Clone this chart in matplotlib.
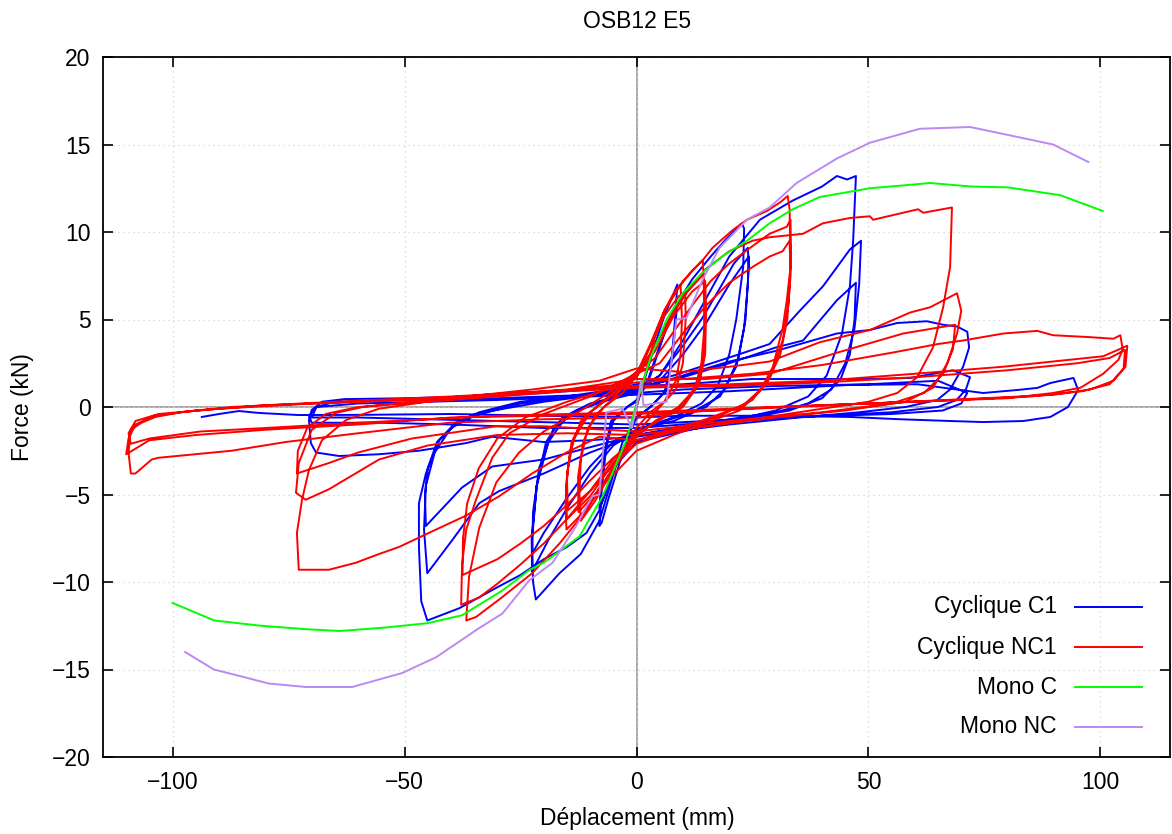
import numpy as np
import matplotlib
matplotlib.use("Agg")
import matplotlib.pyplot as plt

plt.rcParams['font.family'] = ['Liberation Sans', 'DejaVu Sans']
plt.rcParams['font.size'] = 16.5

# ============
# Data (displacement mm, force kN)
# ============
cyclic_c1 = [
    (0, 0), (2, 1.8), (4, 3.6), (6, 5.2), (8.5, 6.8), (8.8, 7.0), (8.3, 5.0), (7.5, 2.5), (6, 0.8), (3, 0),
    (0, -0.6), (-2, -1.8), (-4, -3.5), (-6, -5.2), (-7.5, -6.6), (-8, -6.8), (-7.5, -4.8), (-6.5, -2.2),
    (-5, -0.8), (-2, 0), (0, 0.4),
    (2, 1.2), (5, 3.5), (8, 5.6), (8.8, 6.0), (8, 3.5), (6.5, 1), (3, 0), (0, -0.6), (-3, -2), (-6, -4.5),
    (-8, -5.8), (-7.3, -3.2), (-5.5, -0.8), (-2, 0), (0, 0.3),
    (3, 1.8), (6, 4.2), (9, 6.0), (12, 7.3), (16, 8.6), (19, 9.5), (22.7, 10.5), (23.2, 10.2), (23, 8),
    (21.5, 5), (20, 3), (17.5, 1.2), (14, 0.2), (8, -0.6), (0, -1.3), (-4, -3), (-8, -6.5), (-12, -8.4),
    (-16.6, -9.5), (-21.7, -11.0), (-22.3, -10), (-22.5, -7.5), (-21.5, -4.5), (-19.5, -2), (-16, -0.6),
    (-10, 0.2), (-4, 0.6), (0, 1.0),
    (5, 1.8), (10, 3.5), (14, 5.0), (18, 6.8), (21, 8.2), (24, 9.1), (24.2, 8), (23.5, 5), (22, 2.8),
    (19, 1), (15, 0), (8, -0.8), (0, -1.3), (-5, -2.2), (-10, -3.8), (-15, -5.8), (-19, -7.6),
    (-22.5, -9.4), (-22.6, -7.5), (-21.5, -4.5), (-19, -2), (-15, -0.5), (-8, 0.3), (0, 0.9),
    (5, 1.5), (10, 3.0), (15, 4.8), (20, 7), (24.2, 8.6), (24, 7), (23.2, 4.5), (21.5, 2.3), (18, 0.6),
    (12, -0.3), (5, -0.9), (0, -1.3), (-5, -2), (-10, -3.4), (-15, -5.2), (-20, -7.2), (-22.5, -8.4),
    (-22.3, -6), (-21, -3.5), (-18, -1.3), (-13, -0.2), (-6, 0.4), (0, 0.8),
    (5, 1.8), (10, 3.8), (15, 6.2), (20, 8.6), (26.6, 10.7), (33.7, 11.8), (40, 12.6), (43.2, 13.2),
    (45.4, 13.0), (47.3, 13.2), (46.7, 9.5), (46, 6.9), (44.3, 4.2), (41, 1.8), (37, 0.6), (30, -0.2),
    (20, -0.8), (10, -1.4), (0, -2.0), (-5, -3.5), (-8, -5.9), (-10.8, -7.2), (-15, -8), (-20, -8.7),
    (-25, -9.6), (-30, -10.3), (-38.2, -11.5), (-45.1, -12.2), (-46.4, -11.1), (-46.9, -8), (-46.9, -5.5),
    (-45.4, -3.8), (-42.5, -1.9), (-38.2, -0.8), (-33.9, -0.3), (-25, 0.3), (-15, 0.6), (-5, 1.0), (0, 1.3),
    (8, 1.8), (15, 2.4), (22, 3.0), (28.7, 3.6), (35.2, 5.5), (40.2, 6.9), (46, 9.0), (48.4, 9.5), (48, 7),
    (47, 4.5), (45, 2.5), (42, 1), (37, 0.2), (30, -0.3), (15, -0.9), (0, -1.6), (-10, -2.6), (-20, -3.8),
    (-29.6, -4.8), (-33.9, -5.5), (-39.7, -7.6), (-45.1, -9.5), (-45.8, -7), (-45.4, -4.5), (-43.5, -2.6),
    (-40, -1.2), (-35, -0.5), (-25, 0.2), (-10, 0.7), (0, 1.1),
    (10, 1.7), (20, 2.5), (30, 3.4), (35.9, 3.8), (43.2, 6.1), (47.3, 7.1), (47, 5), (46, 3), (44, 1.6),
    (40, 0.5), (33, -0.2), (20, -0.8), (5, -1.4), (0, -1.6), (-10, -2.3), (-20, -3), (-31.1, -3.4),
    (-37.6, -4.6), (-45.4, -6.8), (-45.6, -5), (-45, -3.5), (-43, -2), (-39, -0.9), (-33, -0.3),
    (-20, 0.3), (-5, 0.8), (0, 1.0),
    (10, 1.8), (20, 2.6), (30, 3.2), (43.2, 4.2), (50.3, 4.4), (56.2, 4.8), (62.6, 4.9), (66.1, 4.7),
    (69.1, 4.6), (71.3, 4.3), (71.7, 3.4), (70.4, 2.3), (67.6, 1.0), (64.8, 0.4), (58, 0), (48, -0.3),
    (35, -0.6), (20, -1), (5, -1.5), (0, -1.7), (-10, -1.9), (-20, -2.0), (-31.1, -1.7), (-36.7, -2.06),
    (-46.9, -2.5), (-55.5, -2.7), (-64.1, -2.8), (-69.1, -2.6), (-70.2, -2.06), (-70.6, -0.74),
    (-70, -0.17), (-67.8, 0.3), (-63, 0.45), (-50, 0.5), (-35, 0.6), (-20, 0.8), (-5, 1.1), (0, 1.2),
    (10, 1.3), (25, 1.6), (40, 1.6), (50, 1.6), (59, 1.66), (68.2, 2.1), (71.9, 1.7), (71, 1.0), (69, 0.4),
    (65, 0), (55, -0.3), (40, -0.5), (20, -0.8), (0, -1.2), (-20, -1.2), (-40, -1.0), (-55, -0.9),
    (-65, -0.9), (-70, -0.9), (-70.6, -0.5), (-69, 0), (-65, 0.3), (-50, 0.4), (-30, 0.5), (-10, 0.7),
    (0, 0.8),
    (10, 1.0), (30, 1.2), (50, 1.3), (65, 1.5), (71.3, 0.8), (70, 0.2), (66, -0.2), (55, -0.4), (30, -0.6),
    (0, -1.0), (-30, -0.8), (-60, -0.6), (-70, -0.6), (-69, 0), (-60, 0.2), (-30, 0.4), (0, 0.7),
    (20, 0.9), (46, 1.26), (60.5, 1.3), (74.7, 0.8), (82, 0.97), (86.4, 1.09), (89.2, 1.37), (94.2, 1.66),
    (95.2, 0.97), (93, 0), (89.2, -0.57), (83.4, -0.8), (74.7, -0.86), (67.6, -0.8), (56.8, -0.7),
    (46, -0.57), (30, -0.5), (10, -0.5), (0, -0.6), (-20, -0.5), (-40, -0.4), (-60, -0.45), (-72.8, -0.46),
    (-81.4, -0.34), (-85.7, -0.23), (-90, -0.4), (-93.7, -0.57),
]

cyclic_nc1 = [
    (0, 0), (2, 2), (4, 4), (6, 5.5), (8, 6.5), (9.5, 7.0), (9.8, 5), (9.5, 3), (8.5, 1.5), (6, 0.3),
    (3, -0.3), (0, -1.2), (-3, -2.6), (-6, -4), (-9, -5.4), (-12, -6.5), (-12.3, -5), (-12, -3),
    (-10.5, -1.2), (-7, 0), (-3, 0.8), (0, 1.8),
    (3, 3.5), (6, 5.2), (9, 6.3), (10.5, 6.6), (10.6, 5), (10, 2.5), (8.5, 1), (5, 0), (0, -1.5), (-4, -3),
    (-8, -4.7), (-12.5, -6.0), (-12.6, -4), (-11.5, -2), (-9, -0.5), (-5, 0.5), (0, 1.9),
    (3, 3.6), (6, 5.5), (9, 6.8), (12, 7.8), (14.3, 8.4), (14.5, 7), (14.6, 4.5), (14, 2.5), (12.5, 1.0),
    (9, 0), (4, -0.8), (0, -1.7), (-4, -3.2), (-8, -4.8), (-11, -5.9), (-15.1, -7.0), (-15.3, -5.5),
    (-14.8, -3.5), (-13.5, -1.8), (-10, -0.3), (-5, 0.8), (0, 2),
    (3, 3), (7, 5), (11, 6.6), (14.5, 7.6), (14.8, 6), (14.7, 3.5), (13.5, 1.5), (10, 0.1), (5, -0.7),
    (0, -1.6), (-5, -3.2), (-10, -5.1), (-15, -6.4), (-15.2, -4.5), (-14.3, -2.5), (-12, -0.8), (-7, 0.4),
    (0, 1.8),
    (4, 3.2), (8, 5.2), (12, 6.6), (14.8, 7.2), (15, 5.5), (14.8, 3), (13.5, 1.3), (10, 0), (4, -0.9),
    (0, -1.5), (-5, -3), (-10, -4.8), (-14.8, -5.9), (-15, -4), (-14, -2), (-11, -0.5), (-6, 0.5), (0, 1.7),
    (3, 3.5), (6, 5.5), (10, 7.2), (14.3, 8.4), (16.4, 9.1), (20.7, 10.1), (23.8, 10.7), (28.1, 11.2),
    (31, 11.7), (32.6, 12.06), (33, 11.3), (33.2, 8.0), (32.4, 6.1), (31.5, 4.5), (29.4, 2.3), (26.6, 0.9),
    (22.2, -0.2), (15, -0.9), (8, -1.6), (0, -2.5), (-4, -3.6), (-8, -4.6), (-10.8, -5.9), (-16.6, -7.8),
    (-22.5, -9.5), (-29.6, -11.0), (-34.6, -12.0), (-36.7, -12.2), (-36.1, -9.7), (-33.9, -6.9),
    (-30.2, -4.3), (-25.3, -2.6), (-20, -1.4), (-12, -0.2), (-6, 0.8), (0, 2.0),
    (4, 2.8), (8, 4.3), (12, 5.8), (16, 7.2), (20, 8.2), (24, 9.0), (28.7, 9.9), (32.4, 10.3), (33.2, 10.7),
    (33.3, 8.5), (32.8, 6), (31.5, 3.8), (29, 1.8), (25, 0.4), (18, -0.5), (10, -1.2), (0, -2.1),
    (-5, -3.3), (-10, -4.8), (-15, -6.4), (-20, -7.8), (-25, -9.0), (-30, -10.1), (-34, -10.9),
    (-37.8, -11.3), (-37.6, -9), (-36.7, -7), (-34.6, -5.3), (-31.1, -2.9), (-27.4, -1.5), (-20, -0.4),
    (-10, 0.6), (0, 1.9),
    (5, 2.5), (10, 4.2), (15, 5.8), (20, 7.1), (25, 8), (28.7, 8.6), (31.5, 8.9), (33, 9.5), (33.2, 7.5),
    (32.5, 5), (31, 3), (28, 1.3), (23, 0.1), (15, -0.7), (5, -1.5), (0, -1.9), (-5, -2.9), (-10, -4.2),
    (-15, -5.6), (-20, -6.8), (-25, -7.8), (-30, -8.7), (-35, -9.3), (-37.5, -9.6), (-37.4, -7.5),
    (-36.5, -5.5), (-34, -3.5), (-30, -1.8), (-24, -0.6), (-15, 0.3), (-5, 1.1), (0, 1.7),
    (5, 4), (10, 6.3), (15, 7.9), (20, 8.9), (25, 9.5), (28.7, 9.7), (35.9, 9.9), (40.2, 10.5), (46, 10.8),
    (50.3, 10.9), (51, 10.7), (57.5, 11.1), (60.7, 11.3), (61.8, 11.1), (68, 11.4), (67.6, 8.0),
    (66.1, 5.7), (63.9, 3.4), (60.5, 1.7), (56.2, 0.8), (50, 0.3), (40, -0.1), (25, -0.7), (10, -1.3),
    (0, -1.9), (-8, -1.7), (-15.1, -2.6), (-22.5, -3.8), (-29.6, -5.1), (-36.7, -6.2), (-44, -7.1),
    (-51.2, -8.0), (-55.5, -8.4), (-60.5, -8.9), (-66.3, -9.3), (-72.8, -9.3), (-73.2, -7.2), (-72.1, -5.3),
    (-70.6, -3.6), (-67.8, -1.9), (-62.6, -0.74), (-55.5, -0.1), (-40, 0.5), (-22.5, 1.0), (-8, 1.5),
    (0, 2.2),
    (10, 2.0), (20, 2.3), (28.7, 2.6), (39.5, 3.7), (50.3, 4.4), (59, 5.4), (63.3, 5.7), (69.1, 6.5),
    (70, 5.5), (69.1, 4.2), (67, 2.5), (63.9, 1.1), (58, 0.3), (45, -0.2), (30, -0.6), (15, -1.1),
    (0, -1.6), (-15, -1.5), (-30, -1.6), (-45, -2.2), (-55.5, -3.0), (-66.3, -4.7), (-71.3, -5.3),
    (-73.4, -4.9), (-72.8, -3.2), (-70, -1.3), (-64.8, -0.34), (-59, 0), (-45, 0.4), (-30, 0.7),
    (-15, 1.0), (0, 1.6),
    (15, 1.6), (28.7, 1.9), (43.2, 3.1), (57.5, 4.2), (68.7, 4.7), (68.2, 3.3), (66.1, 1.9), (62, 0.8),
    (55, 0.2), (40, -0.3), (20, -0.8), (0, -1.4), (-20, -1.1), (-30.2, -1.1), (-48.4, -1.8), (-60, -2.6),
    (-66.3, -3.2), (-73.2, -3.8), (-73, -2.5), (-71, -1.2), (-67, -0.4), (-60, 0), (-40, 0.4), (-20, 0.8),
    (0, 1.4),
    (10, 1.6), (25, 1.9), (40, 2.4), (55, 3.1), (65, 3.6), (70.4, 3.8), (79.1, 4.2), (86.4, 4.35),
    (89.8, 4.1), (97.2, 4.0), (102.8, 3.9), (104.3, 4.1), (104.8, 3.3), (103.9, 2.7), (100.6, 1.9),
    (95.7, 1.1), (89.8, 0.8), (80, 0.5), (70, 0.4), (50, 0.2), (30, 0), (10, -0.3), (0, -0.6), (-20, -0.7),
    (-40.4, -0.9), (-60, -1.5), (-75.6, -2.0), (-87.3, -2.5), (-103, -2.9), (-104.5, -3.0), (-108, -3.8),
    (-109, -3.8), (-109.5, -2.6), (-109, -1.3), (-106.7, -0.9), (-103.7, -0.57), (-98, -0.29), (-87.3, 0),
    (-65.6, 0.29), (-40, 0.6), (-20, 0.9), (0, 1.2),
    (20, 1.3), (40, 1.5), (60, 1.9), (79, 2.3), (93.5, 2.7), (100.6, 2.9), (105.8, 3.5), (105.4, 2.3),
    (102.8, 1.5), (97.8, 1.0), (90, 0.7), (75, 0.5), (50, 0.2), (25, -0.1), (0, -0.4), (-20, -0.5),
    (-40, -0.6), (-60, -1.0), (-80, -1.3), (-95, -1.6), (-105, -1.9), (-110, -2.7), (-109.5, -1.8),
    (-108, -1.0), (-104, -0.5), (-95, -0.2), (-80, 0.1), (-60, 0.3), (-30, 0.7), (0, 1.1),
    (20, 1.2), (40, 1.4), (60, 1.7), (80, 2.1), (95, 2.5), (102, 2.8), (105.3, 3.26), (105, 2.2),
    (102, 1.3), (96, 0.9), (85, 0.6), (60, 0.3), (30, 0), (0, -0.3), (-30, -0.5), (-60, -0.9), (-80, -1.2),
    (-94, -1.4), (-105, -1.8), (-109, -2.1), (-109.5, -1.5), (-108, -0.8), (-103, -0.4), (-90, -0.1),
    (-70, 0.2), (-40, 0.5),
]

mono_c = [
    (-100, -11.2), (-91, -12.2), (-81, -12.5), (-71, -12.7), (-64, -12.8), (-54, -12.6), (-45, -12.35),
    (-37.6, -11.9), (-29, -10.5), (-23, -9.3), (-20, -8.9), (-12.3, -7.4), (-7.3, -5.1), (-2.2, -1.9),
    (0, 0.2), (3, 2.8), (6.5, 5.0), (10, 6.5), (14.3, 7.7), (19, 8.7), (23.8, 9.5), (28.7, 10.5),
    (33.7, 11.3), (39.5, 12.0), (50.3, 12.5), (57, 12.65), (63.3, 12.8), (72, 12.6), (80, 12.55),
    (86.4, 12.3), (91.4, 12.1), (100.5, 11.2),
]

mono_nc = [
    (-97.3, -14.0), (-91.1, -15.0), (-85.1, -15.4), (-79.3, -15.8), (-71.3, -16.0), (-61.3, -16.0),
    (-50.5, -15.2), (-43.2, -14.3), (-34.3, -12.7), (-28.9, -11.8), (-23.1, -9.9), (-18.1, -8.9),
    (-13, -6.8), (-10.8, -5.7), (-9.5, -5.1), (-8, -5.0), (-6.5, -0.3), (-3, -0.1), (-1, -1.2), (0, 0),
    (1, 1.5), (1.5, 0.1), (6.5, 0.3), (8.6, 5.0), (10.8, 5.1), (14.3, 7.3), (17.9, 9.1), (23.8, 10.7),
    (28.7, 11.4), (34.5, 12.8), (43.2, 14.2), (50.3, 15.1), (61.1, 15.9), (71.9, 16.0), (79.1, 15.6),
    (89.8, 15.0), (97.4, 14.0),
]

series = [
    ("Cyclique C1", cyclic_c1, "#0000ff"),
    ("Cyclique NC1", cyclic_nc1, "#ff0000"),
    ("Mono C", mono_c, "#00ff00"),
    ("Mono NC", mono_nc, "#bb88f4"),
]

x_ticks = [-100, -50, 0, 50, 100]
y_ticks = [-20, -15, -10, -5, 0, 5, 10, 15, 20]

# ============
# Figure
# ============
fig = plt.figure(figsize=(11.72, 8.34), dpi=100)
ax = fig.add_axes([103 / 1172, 1 - 757 / 834, 1067 / 1172, 700 / 834])

ax.set_xlim(-115, 115)
ax.set_ylim(-20, 20)
ax.set_xticks(x_ticks)
ax.set_yticks(y_ticks)
ax.grid(True, color="#d4d4d4", linestyle=(0, (1, 3)), linewidth=0.9)
ax.axhline(0, color="#a8a8a8", linewidth=1.4, zorder=1)
ax.axvline(0, color="#a8a8a8", linewidth=1.4, zorder=1)

ax.tick_params(direction="in", length=7, width=1.2, top=True, right=True, pad=9, labelsize=16.5)
ax.tick_params(axis="x", pad=10)
for s in ax.spines.values():
    s.set_linewidth(1.3)

for i, (name, pts, col) in enumerate(series):
    pts = np.array(pts)
    ax.plot(pts[:, 0], pts[:, 1], color=col, linewidth=1.4, zorder=2 + i)

# legend, gnuplot style: text right-aligned, sample on the right
leg_y = [0.2143, 0.157, 0.1, 0.0429]
for (name, pts, col), yy in zip(series, leg_y):
    ax.text(0.894, yy, name, transform=ax.transAxes, ha="right", va="center", fontsize=16.5)
    ax.plot([0.911, 0.974], [yy, yy], transform=ax.transAxes, color=col, linewidth=1.4)

fig.text(637 / 1172, 1 - 22 / 834, "OSB12 E5", ha="center", va="center", fontsize=16.5)
fig.text(637 / 1172, 1 - 818 / 834, "Déplacement (mm)", ha="center", va="center", fontsize=16.5)
fig.text(22 / 1172, 1 - 407 / 834, "Force (kN)", ha="center", va="center", rotation=90, fontsize=16.5)

plt.savefig("out.png", dpi=100)
